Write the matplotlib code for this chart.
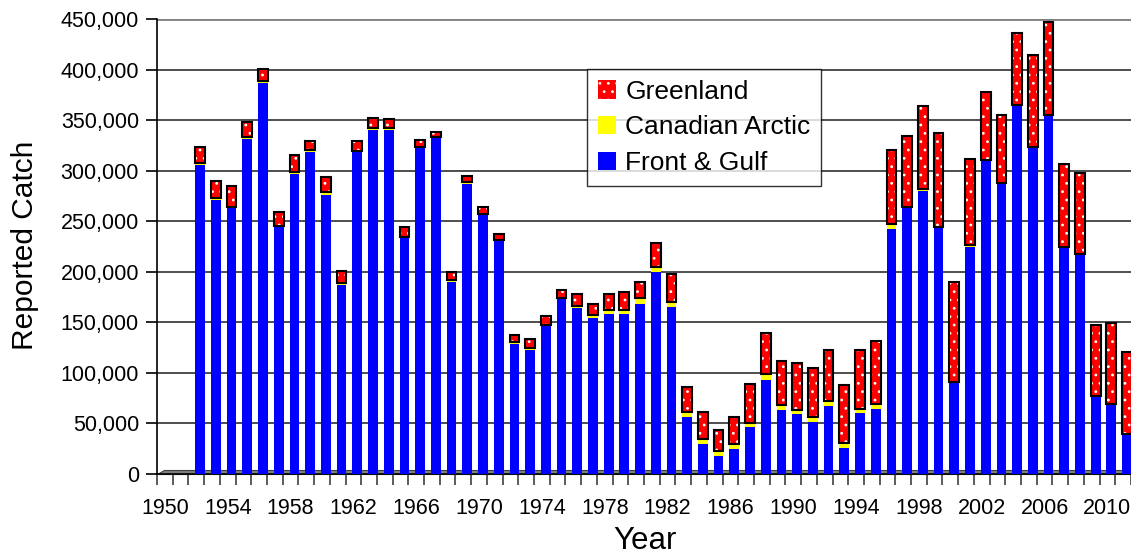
import matplotlib
matplotlib.use("Agg")
import matplotlib.pyplot as plt
import numpy as np
from matplotlib.patches import Polygon
from matplotlib.ticker import FuncFormatter, FixedLocator

plt.rcParams["font.family"] = ["Liberation Sans", "DejaVu Sans"]
plt.rcParams["hatch.linewidth"] = 0.8

years = np.arange(1952, 2012)

# reported catch, animals
front_gulf = [
    306000, 271000, 263000, 331000, 387000, 244000, 297000, 318000, 276000, 187000,
    318000, 340000, 340000, 233000, 322000, 332000, 190000, 287000, 256000, 230000,
    129000, 123000, 146000, 173000, 164000, 154000, 158000, 158000, 168000, 200000,
    165000, 56000, 30000, 18000, 25000, 46000, 93000, 63000, 59000, 51000,
    67000, 26000, 60000, 64000, 242000, 263000, 280000, 243000, 90000, 225000,
    310000, 287000, 364000, 322000, 354000, 224000, 217000, 76000, 68000, 39000,
]
canadian_arctic = [
    2000, 1500, 1500, 2000, 1500, 1500, 1500, 2000, 2500, 1500,
    1500, 2500, 2500, 1500, 1000, 1000, 1500, 1500, 1500, 1500,
    1500, 2000, 1500, 1500, 2000, 3000, 4000, 4500, 6000, 5000,
    5000, 5000, 4500, 5000, 5000, 4500, 5500, 5500, 4500, 5000,
    5000, 5000, 4500, 5000, 5000, 1500, 1500, 1000, 1000, 1000,
    1000, 1000, 1000, 1000, 1000, 1000, 1000, 1000, 1000, 1000,
]
greenland = [
    15000, 17500, 20000, 15500, 12000, 13500, 16500, 9000, 15500, 12500,
    9500, 10000, 8500, 9500, 7000, 5000, 8500, 6500, 6500, 5500,
    7000, 8500, 9000, 7000, 12000, 11000, 16500, 17500, 16000, 23500,
    27500, 25500, 26500, 20500, 26000, 39000, 40500, 43500, 46000, 49000,
    50500, 57000, 58500, 63000, 73500, 70000, 82500, 93000, 99000, 85500,
    67000, 67000, 71000, 91000, 92000, 82000, 80000, 70500, 80000, 81000,
]

fg = np.array(front_gulf)
ca = np.array(canadian_arctic)
gl = np.array(greenland)

fig = plt.figure(figsize=(11.31, 5.54), dpi=100)
ax = fig.add_axes([157 / 1131, 1 - 474 / 554, 974 / 1131, 455 / 554])

w = 0.62
ax.bar(years, fg, w, color="#0000FF", edgecolor="none", label="Front & Gulf", zorder=3)
ax.bar(years, ca, w, bottom=fg, color="#FFFF00", edgecolor="none",
       label="Canadian Arctic", zorder=3)
# white dotted fill: hatch takes the edge colour, edge itself has zero width
ax.bar(years, gl, w, bottom=fg + ca, color="#FF0000", edgecolor="white",
       linewidth=0, hatch="..", label="Greenland", zorder=3)
# dark outline of the Greenland boxes
ax.bar(years, gl, w, bottom=fg + ca, color="none", edgecolor="#000000",
       linewidth=1.5, zorder=4)

ax.set_xlim(1949.25, 2011.25)
ax.set_ylim(0, 450000)

# grid on the back wall
for v in range(50000, 450001, 50000):
    c = "#808080" if v == 450000 else "#303030"
    ax.axhline(v, color=c, lw=1.2 if v < 450000 else 2, zorder=1)

# grey floor
floor = Polygon([(0, 0), (1, 0), (1, 0.008), (0.007, 0.008)], closed=True,
                transform=ax.transAxes, facecolor="#808080", edgecolor="#404040",
                lw=0.8, zorder=2, clip_on=False)
ax.add_patch(floor)

for s in ["top", "right"]:
    ax.spines[s].set_visible(False)
ax.spines["left"].set_linewidth(1.2)
ax.spines["bottom"].set_linewidth(1.2)

ax.set_yticks(np.arange(0, 450001, 50000))
ax.yaxis.set_major_formatter(FuncFormatter(lambda v, p: f"{int(v):,}"))
ax.tick_params(axis="y", direction="out", length=8, width=1.2, pad=5,
               labelsize=15.5)

label_years = np.arange(1950, 2011, 4)
ax.set_xticks(label_years - 0.25)
ax.set_xticklabels([str(y) for y in label_years])
ax.xaxis.set_minor_locator(FixedLocator(np.arange(1949.25, 2011.3, 1)))
ax.tick_params(axis="x", which="major", length=0, pad=17, labelsize=15.5)
ax.tick_params(axis="x", which="minor", direction="out", length=8, width=1.2,
               color="#404040")

fig.text(25 / 1131, 1 - 245 / 554, "Reported Catch", rotation=90,
         ha="center", va="center", fontsize=21.5)
fig.text(645 / 1131, 1 - 541 / 554, "Year", ha="center", va="center",
         fontsize=22.5)

handles, labels = ax.get_legend_handles_labels()
leg = fig.legend(handles[::-1], labels[::-1], loc="upper left",
                 bbox_to_anchor=(587 / 1131, 1 - 69 / 554),
                 borderaxespad=0, fontsize=19, frameon=True, fancybox=False,
                 edgecolor="black", handlelength=0.7, handleheight=0.7,
                 handletextpad=0.35, borderpad=0.4, labelspacing=0.45)
leg.get_frame().set_linewidth(1.0)

fig.savefig("out.png", dpi=100)
